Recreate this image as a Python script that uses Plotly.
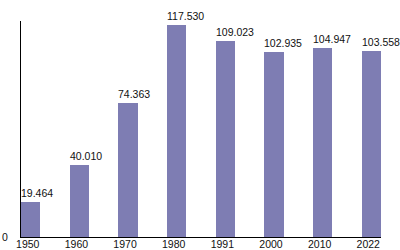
import plotly.graph_objects as go

years = ["1950", "1960", "1970", "1980", "1991", "2000", "2010", "2022"]
population = [19.464, 40.010, 74.363, 117.530, 109.023, 102.935, 104.947, 103.558]
value_labels = ["19.464", "40.010", "74.363", "117.530", "109.023", "102.935", "104.947", "103.558"]

BAR_W = 0.4
FONT = dict(family="Liberation Sans, Arial, sans-serif", size=10.5, color="#111111")

xs = list(range(len(years)))

fig = go.Figure()
fig.add_trace(go.Bar(
    x=xs, y=population, width=BAR_W,
    marker=dict(color="#7e7db3", line=dict(width=0)),
    hoverinfo="skip",
))

for x, y, t in zip(xs, population, value_labels):
    fig.add_annotation(
        x=x - BAR_W / 2, y=y, text=t, showarrow=False,
        xanchor="left", yanchor="bottom", xshift=-2, yshift=1,
        font=FONT,
    )

fig.update_layout(
    width=400, height=250,
    margin=dict(l=21, r=19, t=21, b=13, autoexpand=False),
    paper_bgcolor="white", plot_bgcolor="white",
    showlegend=False,
    font=FONT,
    bargap=0,
)
fig.update_xaxes(
    range=[-BAR_W / 2, len(years) - 1 + BAR_W / 2],
    tickmode="array", tickvals=xs, ticktext=years,
    showgrid=False, zeroline=False,
    showline=True, linecolor="black", linewidth=1,
    ticks="", tickfont=FONT, ticklabelshift=-3, ticklabelstandoff=-3,
)
fig.update_yaxes(
    range=[0, 120],
    tickmode="array", tickvals=[0], ticktext=["0"],
    showgrid=False, zeroline=False,
    showline=True, linecolor="black", linewidth=1,
    ticks="", tickfont=FONT, ticklabelstandoff=10,
)

fig.write_html("out.html", config={"displayModeBar": False})
